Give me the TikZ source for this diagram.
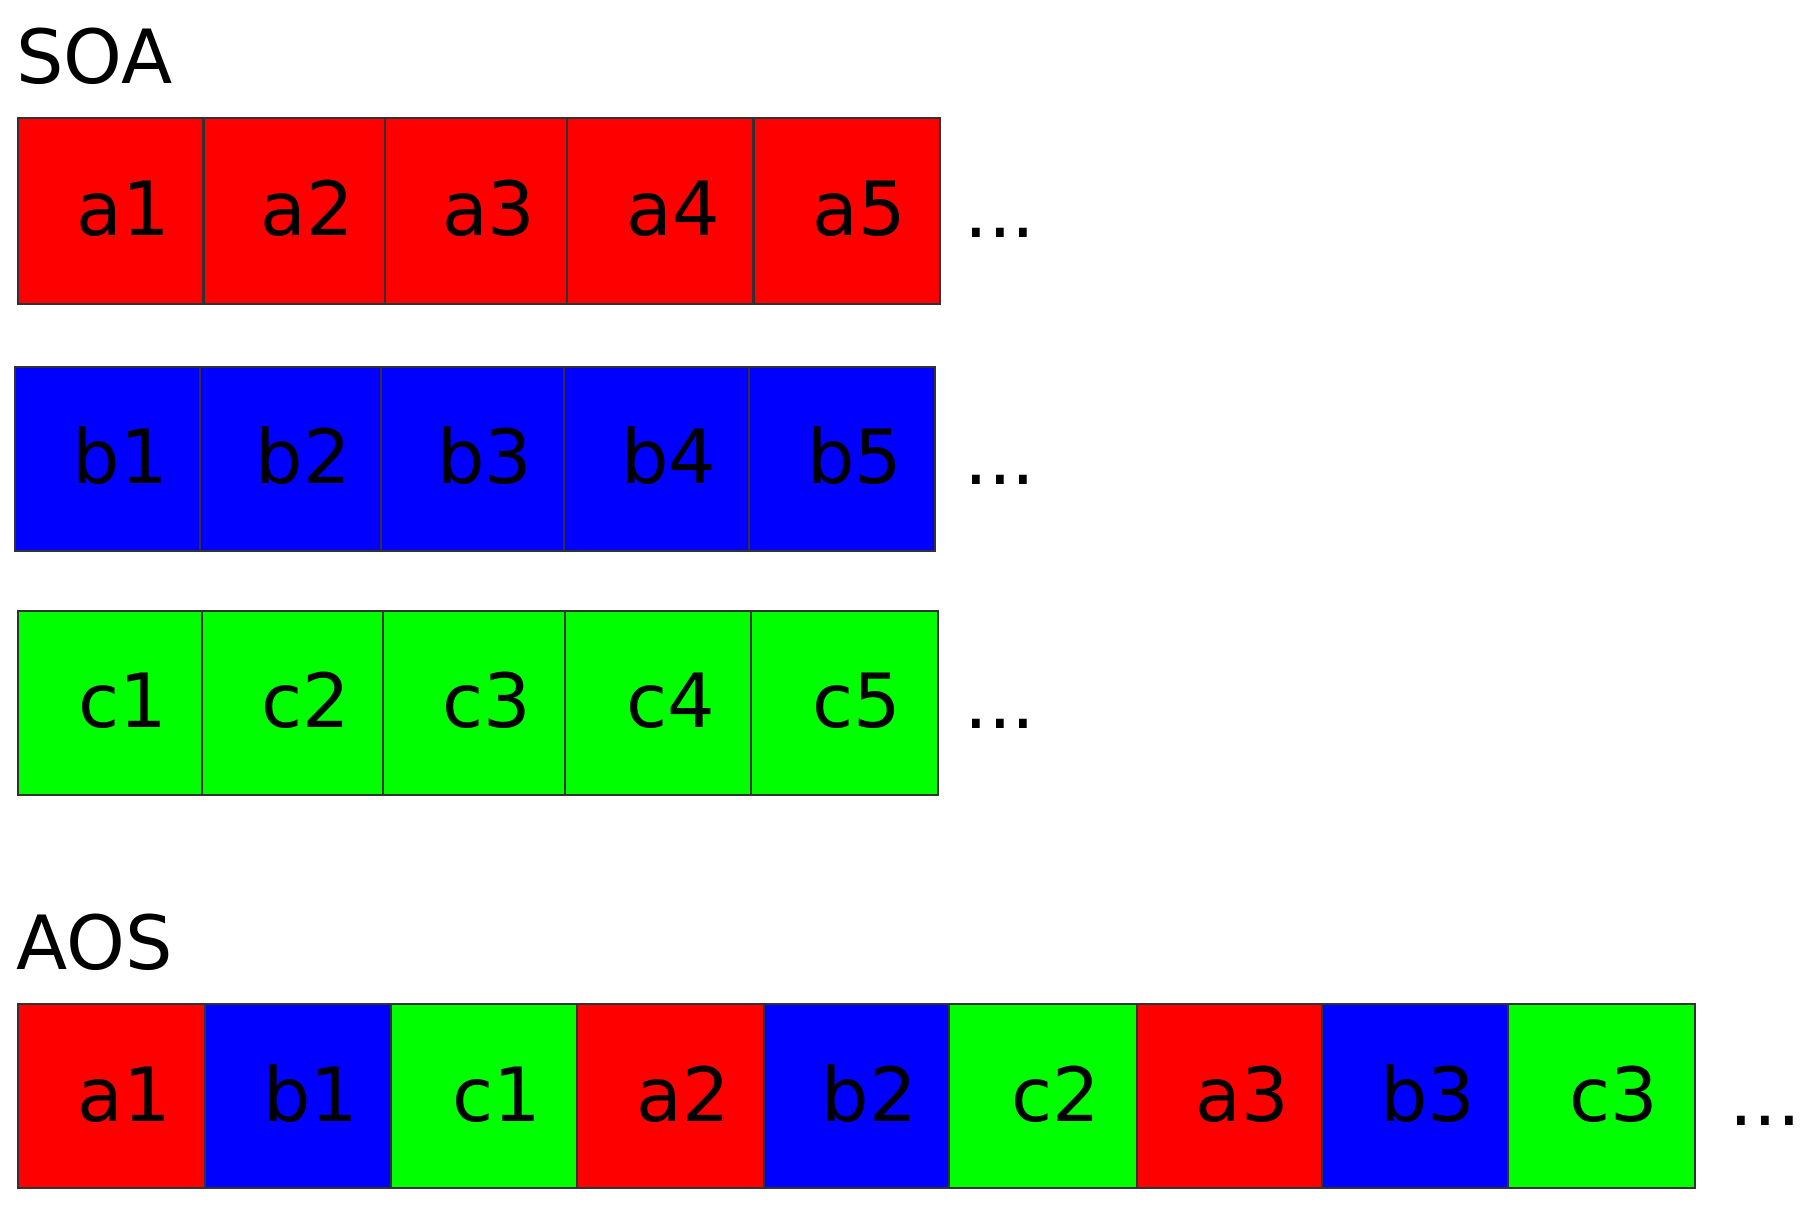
\documentclass[tikz,border=0pt]{standalone}
\usepackage{fontspec}
\setmainfont{DejaVu Sans}
\definecolor{cred}{RGB}{255,0,0}
\definecolor{cblue}{RGB}{0,0,255}
\definecolor{cgreen}{RGB}{0,255,0}
\definecolor{cedge}{RGB}{50,50,50}
\tikzset{
  cell/.style={draw=cedge, line width=1.8pt, inner sep=0pt, anchor=north west,
    minimum height=161pt, text height=43pt, text depth=0pt,
    font=\fontsize{65}{72}\selectfont, text=black},
  ra/.style={cell, fill=cred},
  rb/.style={cell, fill=cblue},
  rc/.style={cell, fill=cgreen},
  txt/.style={inner sep=0pt, anchor=base west, font=\fontsize{65}{72}\selectfont, text=black}
}
\newcommand{\cl}[1]{\hspace*{22pt}#1}
\begin{document}
\begin{tikzpicture}[x=1pt,y=-1pt]
\useasboundingbox (0,0) rectangle (1568,1048);
% SOA
\node[txt] (soa) at (14,73) {SOA};
% row a
\node[ra, minimum width=161pt] (sa1) at (15,102) {\cl{a1}};
\node[ra, minimum width=158pt] (sa2) at (176,102) {\cl{a2}};
\node[ra, minimum width=158pt] (sa3) at (334,102) {\cl{a3}};
\node[ra, minimum width=162pt] (sa4) at (492,102) {\cl{a4}};
\node[ra, minimum width=162pt] (sa5) at (654,102) {\cl{a5}};
\node[txt] (da) at (838,206) {...};
% row b
\node[rb, minimum width=161pt, minimum height=160pt] (sb1) at (12,318) {\cl{b1}};
\node[rb, minimum width=157pt, minimum height=160pt] (sb2) at (173,318) {\cl{b2}};
\node[rb, minimum width=159pt, minimum height=160pt] (sb3) at (330,318) {\cl{b3}};
\node[rb, minimum width=161pt, minimum height=160pt] (sb4) at (489,318) {\cl{b4}};
\node[rb, minimum width=162pt, minimum height=160pt] (sb5) at (650,318) {\cl{b5}};
\node[txt] (db) at (838,421) {...};
% row c
\node[rc, minimum width=160pt, minimum height=160pt] (sc1) at (15,530) {\cl{c1}};
\node[rc, minimum width=157pt, minimum height=160pt] (sc2) at (175,530) {\cl{c2}};
\node[rc, minimum width=158pt, minimum height=160pt] (sc3) at (332,530) {\cl{c3}};
\node[rc, minimum width=162pt, minimum height=160pt] (sc4) at (490,530) {\cl{c4}};
\node[rc, minimum width=162pt, minimum height=160pt] (sc5) at (652,530) {\cl{c5}};
\node[txt] (dc) at (838,633) {...};
% AOS
\node[txt] (aos) at (14,843) {AOS};
\node[ra, minimum width=162pt, minimum height=160pt] (x1) at (15,872) {\cl{a1}};
\node[rb, minimum width=162pt, minimum height=160pt] (x2) at (177,872) {\cl{b1}};
\node[rc, minimum width=162pt, minimum height=160pt] (x3) at (339,872) {\cl{c1}};
\node[ra, minimum width=162pt, minimum height=160pt] (x4) at (501,872) {\cl{a2}};
\node[rb, minimum width=161pt, minimum height=160pt] (x5) at (663,872) {\cl{b2}};
\node[rc, minimum width=163pt, minimum height=160pt] (x6) at (824,872) {\cl{c2}};
\node[ra, minimum width=161pt, minimum height=160pt] (x7) at (987,872) {\cl{a3}};
\node[rb, minimum width=162pt, minimum height=160pt] (x8) at (1148,872) {\cl{b3}};
\node[rc, minimum width=162pt, minimum height=160pt] (x9) at (1310,872) {\cl{c3}};
\node[txt] (dx) at (1503,978) {...};
\end{tikzpicture}
\end{document}
